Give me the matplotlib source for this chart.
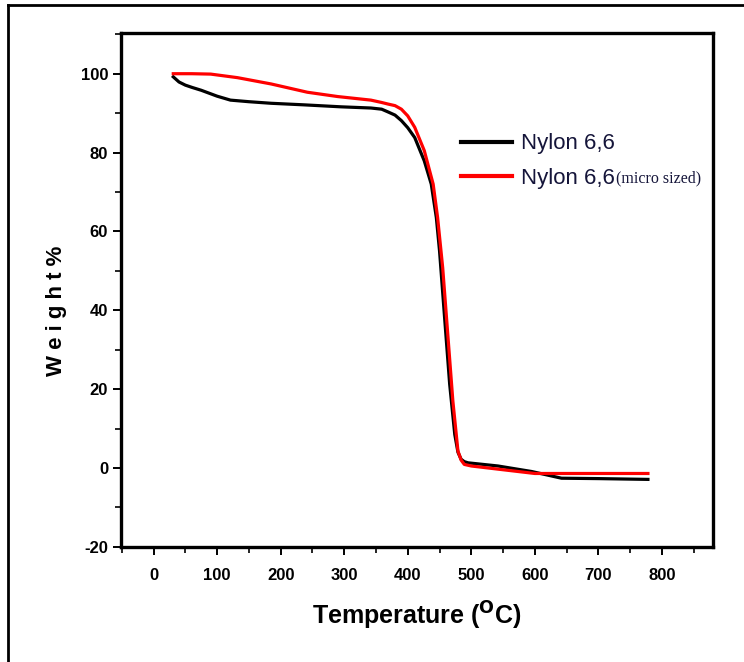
import matplotlib
matplotlib.use("Agg")
import matplotlib.pyplot as plt
from matplotlib.lines import Line2D
from matplotlib.ticker import MultipleLocator

plt.rcParams["font.family"] = ["Liberation Sans Narrow", "Liberation Sans", "DejaVu Sans"]
plt.rcParams["axes.unicode_minus"] = False

# TGA curves (temperature in degC, weight %)
temp_plain = [31, 40, 50, 61, 75, 100, 121, 150, 185, 237, 295, 342, 359, 369, 380, 390,
              400, 411, 426, 437, 445, 450, 458, 466, 474, 479, 484, 489, 495, 542, 595, 642, 700, 778]
weight_plain = [99.2, 97.9, 97.1, 96.5, 95.8, 94.3, 93.3, 92.9, 92.5, 92.1, 91.6, 91.3, 91.0, 90.3, 89.5, 88.1,
                86.3, 83.8, 77.9, 72.0, 63.5, 55.1, 38.1, 21.2, 8.5, 4.0, 2.2, 1.6, 1.3, 0.5, -0.9, -2.6, -2.7, -2.9]

temp_micro = [31, 60, 90, 132, 185, 242, 290, 342, 359, 369, 380, 390, 400, 411,
              426, 440, 447, 455, 463, 471, 479, 484, 489, 500, 521, 542, 600, 700, 778]
weight_micro = [100.0, 100.0, 99.9, 99.0, 97.4, 95.3, 94.2, 93.3, 92.7, 92.3, 91.9, 91.0, 89.3, 86.4,
                80.5, 72.0, 63.5, 50.8, 33.9, 17.0, 4.3, 2.0, 0.9, 0.5, 0.1, -0.3, -1.4, -1.4, -1.4]

labels = ["Nylon 6,6", "Nylon 6,6"]
label_extra = "(micro sized)"

fig = plt.figure(figsize=(7.44, 6.62), dpi=100)
ax = fig.add_axes([0.162, 0.174, 0.796, 0.776])

ax.plot(temp_plain, weight_plain, color="black", linewidth=2.3)
ax.plot(temp_micro, weight_micro, color="#ff0000", linewidth=2.3)

ax.set_xlim(-52, 880)
ax.set_ylim(-20, 110.3)
ax.xaxis.set_major_locator(MultipleLocator(100))
ax.xaxis.set_minor_locator(MultipleLocator(50))
ax.yaxis.set_major_locator(MultipleLocator(20))
ax.yaxis.set_minor_locator(MultipleLocator(10))
ax.set_xticks(range(0, 801, 100))
ax.tick_params(which="major", direction="out", length=6, width=1.4, pad=9)
ax.tick_params(which="minor", direction="out", length=4, width=1.2)
ax.tick_params(axis="y", which="major", pad=3)
for sp in ax.spines.values():
    sp.set_linewidth(2.4)
for lbl in ax.get_xticklabels() + ax.get_yticklabels():
    lbl.set_fontweight("bold")
    lbl.set_fontsize(12)

ax.set_xlabel("Temperature ($^{\\mathbf{O}}$C)", fontsize=18, fontweight="bold", labelpad=12)
ax.set_ylabel("W e i g h t %", fontsize=16, fontweight="bold")
ax.yaxis.set_label_coords(-0.09, 0.46)

handles = [Line2D([], [], color="black", linewidth=3),
           Line2D([], [], color="#ff0000", linewidth=3)]
leg = ax.legend(handles, labels, loc="upper left", bbox_to_anchor=(0.56, 0.822),
                frameon=False, fontsize=16, handlelength=2.3, handletextpad=0.4,
                labelspacing=0.6, borderaxespad=0)
for t in leg.get_texts():
    t.set_color("#15153a")

# "(micro sized)" is set in a smaller serif face right after the second label
fig.canvas.draw()
bb = leg.get_texts()[1].get_window_extent().transformed(fig.transFigure.inverted())
fig.text(bb.x1 + 0.002, bb.y0 + 0.004, label_extra, family="Liberation Serif",
         fontsize=11.5, color="#15153a", va="bottom", ha="left")

# outer frame (top and left edges visible in the reference)
fig.add_artist(Line2D([0.011, 1.0], [0.992, 0.992], color="black", linewidth=2,
                      transform=fig.transFigure))
fig.add_artist(Line2D([0.011, 0.011], [0.0, 0.992], color="black", linewidth=2,
                      transform=fig.transFigure))

fig.savefig("out.png", dpi=100)
